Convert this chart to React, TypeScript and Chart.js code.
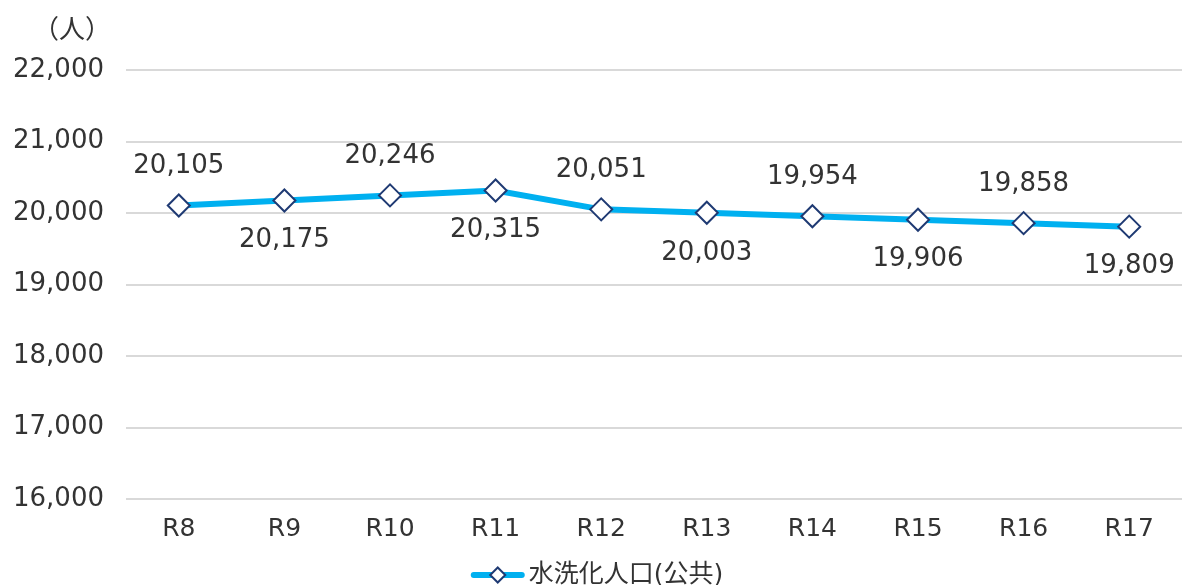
import React, { useEffect, useRef } from "react";
import { Chart, registerables } from "chart.js";

Chart.register(...registerables);

const categories = ["R8", "R9", "R10", "R11", "R12", "R13", "R14", "R15", "R16", "R17"];
const population = [20105, 20175, 20246, 20315, 20051, 20003, 19954, 19906, 19858, 19809];
const seriesName = "水洗化人口(公共)";
const unitLabel = "（人）";
const yMin = 16000;
const yMax = 22000;
const yStep = 1000;

const FONT = "'DejaVu Sans', 'Noto Sans CJK JP', sans-serif";
const TEXT = "#333333";
const LINE = "#00B0F0";
const MARK = "#1F3A73";

function drawDiamond(ctx: CanvasRenderingContext2D, x: number, y: number, r: number) {
  ctx.beginPath();
  ctx.moveTo(x, y - r);
  ctx.lineTo(x + r, y);
  ctx.lineTo(x, y + r);
  ctx.lineTo(x - r, y);
  ctx.closePath();
  ctx.fillStyle = "#ffffff";
  ctx.fill();
  ctx.strokeStyle = MARK;
  ctx.lineWidth = 2;
  ctx.stroke();
}

const labelPlugin = {
  id: "valueLabels",
  afterDatasetsDraw(chart: any) {
    const ctx = chart.ctx;
    const meta = chart.getDatasetMeta(0);
    ctx.save();
    ctx.font = `26px ${FONT}`;
    ctx.fillStyle = TEXT;
    ctx.textAlign = "center";
    ctx.textBaseline = "middle";
    meta.data.forEach((pt: any, i: number) => {
      const v = population[i];
      const dy = i % 2 === 0 ? -39 : 40;
      ctx.fillText(v.toLocaleString("en-US"), pt.x, pt.y + dy);
    });
    // unit label
    ctx.font = `26px ${FONT}`;
    ctx.textAlign = "right";
    ctx.fillText(unitLabel, 111, 31);

    // legend
    ctx.font = `25px ${FONT}`;
    const tw = ctx.measureText(seriesName).width;
    const iconW = 54;
    const gap = 4;
    const total = iconW + gap + tw;
    const cx = chart.width / 2 + 6;
    const x0 = cx - total / 2;
    const ly = 575;
    ctx.strokeStyle = LINE;
    ctx.lineWidth = 6;
    ctx.lineCap = "round";
    ctx.beginPath();
    ctx.moveTo(x0 + 3, ly);
    ctx.lineTo(x0 + iconW - 3, ly);
    ctx.stroke();
    drawDiamond(ctx, x0 + iconW / 2, ly, 7.5);
    ctx.fillStyle = TEXT;
    ctx.textAlign = "left";
    ctx.fillText(seriesName, x0 + iconW + gap, ly);
    ctx.restore();
  },
};

export default function App() {
  const ref = useRef<HTMLCanvasElement | null>(null);
  useEffect(() => {
    if (!ref.current) return;
    const chart = new Chart(ref.current, {
      type: "line",
      data: {
        labels: categories,
        datasets: [
          {
            label: seriesName,
            data: population,
            borderColor: LINE,
            borderWidth: 6,
            pointStyle: "rectRot",
            pointRadius: 11,
            pointHoverRadius: 11,
            pointBackgroundColor: "#ffffff",
            pointBorderColor: MARK,
            pointBorderWidth: 2,
            tension: 0,
          },
        ],
      },
      options: {
        animation: false,
        responsive: true,
        maintainAspectRatio: false,
        layout: { autoPadding: false, padding: { top: 70, left: 0, right: 0, bottom: 26 } },
        plugins: {
          tooltip: { enabled: false },
          legend: { display: false },
        },
        scales: {
          x: {
            offset: true,
            grid: { display: false, drawTicks: false },
            border: { display: false },
            ticks: { color: TEXT, font: { family: FONT, size: 25 }, padding: 15 },
          },
          y: {
            min: yMin,
            max: yMax,
            afterFit: (s: any) => {
              s.width = 126;
            },
            grid: { color: "#d9d9d9", lineWidth: 2, drawTicks: false },
            border: { display: false },
            ticks: {
              stepSize: yStep,
              color: TEXT,
              padding: 22,
              font: { family: FONT, size: 26 },
              callback: (v: any) => Number(v).toLocaleString("en-US"),
            },
          },
        },
      },
      plugins: [labelPlugin],
    });
    return () => chart.destroy();
  }, []);
  return (
    <div style={{ position: "absolute", left: 0, top: 0, width: 1182, height: 585, background: "#fff" }}>
      <canvas ref={ref} />
    </div>
  );
}
